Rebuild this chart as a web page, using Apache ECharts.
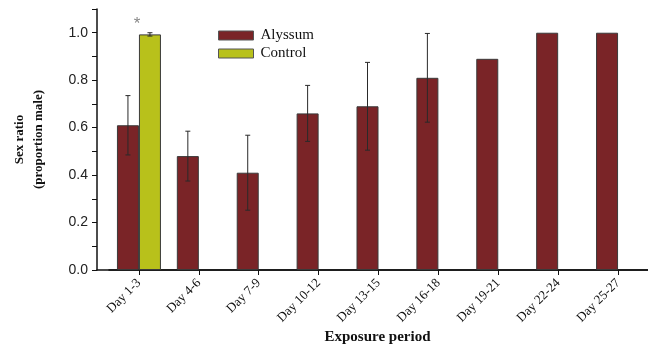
<!DOCTYPE html>
<html>
<head>
<meta charset="utf-8">
<script src="https://cdn.jsdelivr.net/npm/echarts@6/dist/echarts.min.js"></script>
<style>html,body{margin:0;padding:0;background:#fff}#c{width:648px;height:351px}</style>
</head>
<body>
<div id="c"></div>
<script>
const categories = ['Day 1-3','Day 4-6','Day 7-9','Day 10-12','Day 13-15','Day 16-18','Day 19-21','Day 22-24','Day 25-27'];
const alyssum = [0.61, 0.48, 0.41, 0.66, 0.69, 0.81, 0.89, 1.0, 1.0];
const alyssumErr = [0.125, 0.105, 0.158, 0.118, 0.185, 0.187, null, null, null];
const control = [0.993, null, null, null, null, null, null, null, null];
const controlErr = [0.007, null, null, null, null, null, null, null, null];
const yTicks = [0, 0.2, 0.4, 0.6, 0.8, 1.0];

const BW = 22;
function errData(vals, errs){
  const out = [];
  vals.forEach((v,i)=>{ if(v!=null && errs[i]!=null) out.push([i, v-errs[i], v+errs[i]]); });
  return out;
}
function errSeries(name, vals, errs, offset){
  return {
    type:'custom', name: name+' err', xAxisIndex:1, yAxisIndex:1, silent:true, z:5,
    data: errData(vals, errs),
    renderItem: function(params, api){
      const lo = api.coord([api.value(0), api.value(1)]);
      const hi = api.coord([api.value(0), api.value(2)]);
      const x = lo[0] + offset;
      const cap = 2.5;
      const st = {stroke:'#2a2a2a', lineWidth:1};
      return {type:'group', children:[
        {type:'line', shape:{x1:x,y1:lo[1],x2:x,y2:hi[1]}, style:st},
        {type:'line', shape:{x1:x-cap,y1:lo[1],x2:x+cap,y2:lo[1]}, style:st},
        {type:'line', shape:{x1:x-cap,y1:hi[1],x2:x+cap,y2:hi[1]}, style:st}
      ]};
    }
  };
}

const chart = echarts.init(document.getElementById('c'), null, {renderer:'canvas'});
const serif = '"Liberation Serif", "Times New Roman", serif';
const sans = '"Liberation Sans", Arial, sans-serif';
chart.setOption({
  animation:false,
  backgroundColor:'#fff',
  grid:[
    {left:97, right:0, top:9, bottom:81},
    {left:109, width:540, top:9, bottom:81}
  ],
  legend:{
    orient:'vertical', left:218, top:28, padding:0, itemWidth:35, itemHeight:9, itemGap:3,
    icon:'rect',
    data:['Alyssum','Control'],
    textStyle:{fontFamily:serif, fontSize:15, color:'#111', padding:[0,0,0,2]},
    itemStyle:{borderColor:'#555', borderWidth:1}
  },
  xAxis:[
    {gridIndex:0, type:'value', min:0, max:1,
     axisLine:{show:true, lineStyle:{color:'#111', width:1.5}},
     axisTick:{show:false}, axisLabel:{show:false}, splitLine:{show:false},
     name:'Exposure period', nameLocation:'middle', nameGap:60,
     nameTextStyle:{fontFamily:serif, fontWeight:'bold', fontSize:15, color:'#111', padding:[0,0,0,10]}},
    {gridIndex:1, type:'category', data:categories,
     axisLine:{show:true, lineStyle:{color:'#111', width:1.5}},
     axisTick:{show:true, alignWithLabel:true, length:5, lineStyle:{color:'#111'}},
     axisLabel:{rotate:45, fontFamily:serif, fontSize:13, color:'#111', margin:11}}
  ],
  yAxis:[
    {gridIndex:0, type:'value', min:0, max:1.1, interval:0.1,
     axisLine:{show:true, lineStyle:{color:'#111', width:1.5}},
     axisTick:{show:true, length:5, lineStyle:{color:'#111'}},
     axisLabel:{fontFamily:sans, fontSize:14, color:'#222', margin:9,
       formatter:function(v){ const r = Math.round(v*10)/10; return yTicks.some(t=>Math.abs(t-r)<1e-6) ? r.toFixed(1) : ''; }},
     splitLine:{show:false},
     name:'Sex ratio\n(proportion male)', nameLocation:'middle', nameGap:49,
     nameTextStyle:{fontFamily:serif, fontWeight:'bold', fontSize:13, color:'#111', lineHeight:19}},
    {gridIndex:1, type:'value', min:0, max:1.1, show:false}
  ],
  series:[
    {type:'bar', name:'Alyssum', xAxisIndex:1, yAxisIndex:1, data:alyssum, barWidth:BW, barGap:'0%',
     itemStyle:{color:'#7a2427', borderColor:'#3a3a3a', borderWidth:1}},
    {type:'bar', name:'Control', xAxisIndex:1, yAxisIndex:1, barWidth:BW, barGap:'0%',
     data: control.map((v,i)=> i===0 ? {value:v, label:{show:true, position:'top', distance:2, offset:[-13,0], formatter:'*', fontSize:17, color:'#888', fontFamily:sans}} : v),
     itemStyle:{color:'#b8c11b', borderColor:'#3a3a3a', borderWidth:1}},
    errSeries('Alyssum', alyssum, alyssumErr, -BW/2),
    errSeries('Control', control, controlErr, BW/2)
  ]
});
</script>
</body>
</html>
